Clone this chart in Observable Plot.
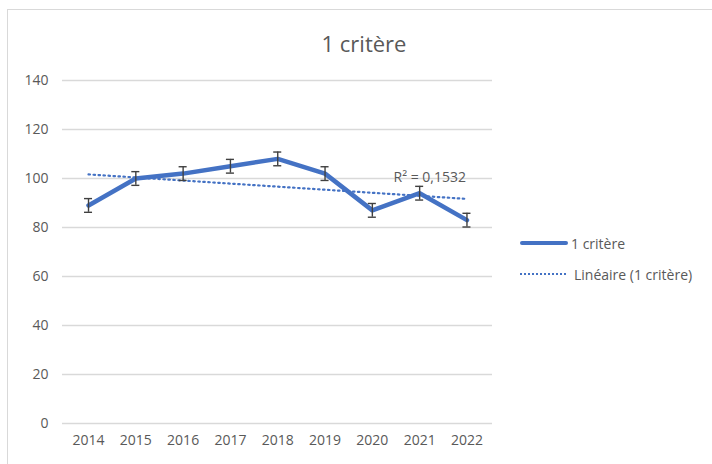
<!DOCTYPE html>
<html>
<head>
<meta charset="utf-8">
<script src="https://cdn.jsdelivr.net/npm/d3@7"></script>
<script src="https://cdn.jsdelivr.net/npm/@observablehq/plot@0.6"></script>
<style>
  html, body { margin: 0; padding: 0; background: #fff; overflow: hidden; }
  #wrap { position: relative; width: 712px; height: 464px; font-family: "Open Sans", "Noto Sans", sans-serif; color: #595959; }
  #border { position: absolute; left: 7px; top: 9px; width: 800px; height: 600px; border: 1.5px solid #d9d9d9; box-sizing: border-box; }
  #title { position: absolute; left: 0; width: 728px; top: 28px; text-align: center; font-size: 22px; color: #595959; }
  #legend { position: absolute; left: 520px; top: 231px; font-size: 14px; color: #595959; }
  .li { display: flex; align-items: center; height: 24px; margin-bottom: 7px; }
  .sw { width: 48px; height: 0; margin-right: 3px; }
  #chart { position: absolute; left: 0; top: 0; }
</style>
</head>
<body>
<div id="wrap">
  <div id="border"></div>
  <div id="chart"></div>
  <div id="title">1 critère</div>
  <div id="legend">
    <div class="li"><div class="sw" style="border-top:4px solid #4472C4;border-radius:2px"></div><span>1 critère</span></div>
    <div class="li"><div class="sw" style="border-top:2.5px dotted #4472C4;width:46px;margin-right:8px"></div><span>Linéaire (1 critère)</span></div>
  </div>
</div>
<script>
const years = [2014, 2015, 2016, 2017, 2018, 2019, 2020, 2021, 2022];
const values = [89, 100, 102, 105, 108, 102, 87, 94, 83];
const errors = [2.8, 2.8, 2.8, 2.8, 2.8, 2.8, 2.8, 2.8, 2.8];
const yTicks = [0, 20, 40, 60, 80, 100, 120, 140];
const r2Label = "R² = 0,1532";

const data = years.map((year, i) => ({year, value: values[i], err: errors[i]}));

// linear regression for label placement
const n = data.length;
const mx = d3.mean(years), my = d3.mean(values);
const slope = d3.sum(data, d => (d.year - mx) * (d.value - my)) / d3.sum(data, d => (d.year - mx) ** 2);
const lastTrend = {year: years[n - 1], value: my + slope * (years[n - 1] - mx)};

const capHalf = 0.085;
const plot = Plot.plot({
  width: 712,
  height: 464,
  marginLeft: 62,
  marginRight: 220,
  marginTop: 80,
  marginBottom: 41,
  style: {fontFamily: "'Open Sans', 'Noto Sans', sans-serif", fontSize: "14px", color: "#595959", background: "transparent"},
  x: {domain: [2013.45, 2022.54], ticks: years, tickFormat: d => String(d), tickSize: 0, tickPadding: 12, label: null},
  y: {domain: [0, 140], ticks: yTicks, tickSize: 0, tickPadding: 14, label: null},
  marks: [
    Plot.ruleY(yTicks, {stroke: "#d9d9d9", strokeWidth: 1.3}),
    Plot.axisX({ticks: years, tickFormat: d => String(d), tickSize: 0, tickPadding: 12, fill: "#595959", fontSize: 14}),
    Plot.axisY({ticks: yTicks, tickSize: 0, tickPadding: 14, fill: "#595959", fontSize: 14}),
    Plot.linearRegressionY(data, {x: "year", y: "value", ci: 0, stroke: "#4472C4", strokeWidth: 2.2, strokeDasharray: "1.5,3.5", strokeLinecap: "round"}),
    Plot.line(data, {x: "year", y: "value", stroke: "#4472C4", strokeWidth: 4.5, strokeLinejoin: "round", strokeLinecap: "round"}),
    Plot.ruleX(data, {x: "year", y1: d => d.value - d.err, y2: d => d.value + d.err, stroke: "#404040", strokeWidth: 1.4}),
    Plot.ruleY(data, {y: d => d.value - d.err, x1: d => d.year - capHalf, x2: d => d.year + capHalf, stroke: "#404040", strokeWidth: 1.4}),
    Plot.ruleY(data, {y: d => d.value + d.err, x1: d => d.year - capHalf, x2: d => d.year + capHalf, stroke: "#404040", strokeWidth: 1.4}),
    Plot.text([lastTrend], {x: "year", y: "value", text: () => r2Label, textAnchor: "end", dx: -1, dy: -21, fill: "#595959", fontSize: 14})
  ]
});
document.getElementById("chart").appendChild(plot);
</script>
</body>
</html>
